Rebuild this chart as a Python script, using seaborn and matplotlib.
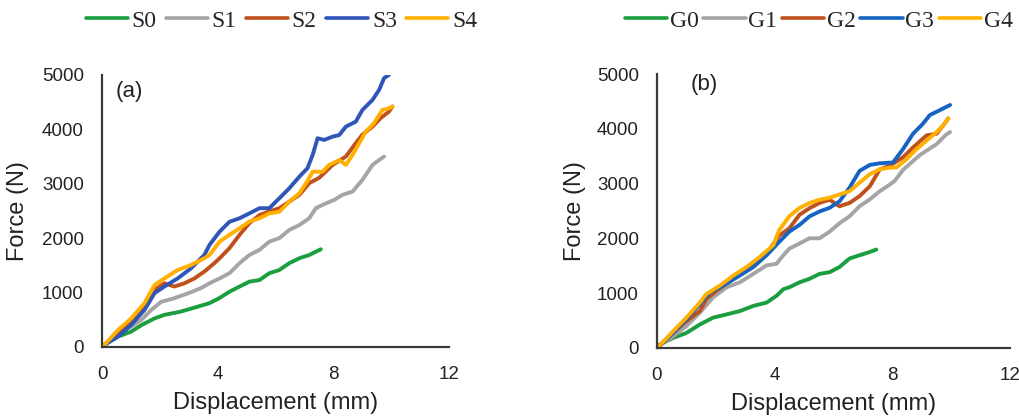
import matplotlib
matplotlib.use("Agg")
import matplotlib.pyplot as plt
from matplotlib.lines import Line2D
import pandas as pd
import seaborn as sns

# ---- load-displacement readings, panel (a): S series ----
s0_x = [0, 0.09, 0.55, 1.0, 1.36, 1.82, 2.16, 2.73, 3.31, 3.72, 4.07, 4.41, 4.76, 5.1, 5.45, 5.79, 6.14, 6.48, 6.83, 7.17, 7.57]
s0_y = [0, 40, 190, 280, 400, 525, 590, 650, 740, 805, 900, 1015, 1110, 1200, 1230, 1355, 1415, 1540, 1630, 1690, 1795]

s1_x = [0, 0.09, 0.55, 1.01, 1.36, 1.7, 2.05, 2.5, 2.97, 3.42, 3.72, 4.07, 4.41, 4.76, 5.1, 5.45, 5.79, 6.14, 6.48, 6.83, 7.17, 7.4, 7.75, 8.03, 8.32, 8.67, 9.01, 9.36, 9.59, 9.76]
s1_y = [0, 40, 250, 375, 495, 680, 830, 895, 985, 1080, 1170, 1260, 1355, 1540, 1690, 1785, 1935, 2000, 2150, 2240, 2365, 2550, 2640, 2700, 2795, 2855, 3070, 3345, 3435, 3500]

s2_x = [0, 0.09, 0.55, 1.01, 1.47, 1.82, 2.16, 2.5, 2.85, 3.2, 3.54, 3.89, 4.07, 4.41, 4.76, 5.1, 5.45, 5.79, 6.14, 6.48, 6.83, 7.17, 7.52, 7.98, 8.44, 8.78, 9.01, 9.36, 9.64, 9.93, 10.05]
s2_y = [0, 40, 250, 465, 740, 1050, 1170, 1110, 1170, 1260, 1385, 1540, 1630, 1815, 2060, 2275, 2425, 2490, 2550, 2670, 2795, 3010, 3110, 3345, 3500, 3745, 3900, 4050, 4205, 4325, 4420]

s3_x = [0, 0.09, 0.55, 1.01, 1.47, 1.82, 2.16, 2.62, 3.08, 3.54, 3.72, 4.07, 4.41, 4.76, 5.1, 5.45, 5.79, 6.14, 6.48, 6.83, 7.11, 7.29, 7.46, 7.69, 7.98, 8.21, 8.44, 8.78, 9.01, 9.36, 9.59, 9.76, 9.93]
s3_y = [0, 40, 190, 405, 680, 990, 1110, 1260, 1445, 1690, 1875, 2120, 2300, 2365, 2455, 2550, 2550, 2735, 2915, 3130, 3285, 3530, 3835, 3805, 3865, 3895, 4050, 4140, 4355, 4540, 4725, 4940, 5000]

s4_x = [0, 0.09, 0.55, 1.01, 1.47, 1.82, 2.16, 2.62, 3.08, 3.54, 3.72, 4.07, 4.41, 4.76, 5.1, 5.45, 5.79, 6.14, 6.48, 6.83, 7.06, 7.29, 7.63, 7.86, 8.21, 8.44, 8.67, 8.9, 9.13, 9.41, 9.7, 9.93, 10.05]
s4_y = [0, 40, 310, 525, 805, 1140, 1260, 1415, 1505, 1630, 1690, 1935, 2060, 2180, 2305, 2365, 2455, 2485, 2670, 2825, 3010, 3220, 3220, 3345, 3435, 3345, 3530, 3745, 3960, 4110, 4355, 4385, 4420]

# ---- panel (b): G series ----
g0_x = [0, 0.09, 0.55, 1.0, 1.46, 1.91, 2.37, 2.82, 3.28, 3.73, 4.07, 4.3, 4.5, 4.85, 5.19, 5.53, 5.87, 6.21, 6.55, 6.89, 7.24, 7.46]
g0_y = [0, 55, 180, 270, 425, 550, 610, 670, 765, 825, 950, 1070, 1105, 1195, 1260, 1350, 1380, 1475, 1630, 1690, 1750, 1795]

g1_x = [0, 0.09, 0.55, 1.0, 1.46, 1.91, 2.37, 2.82, 3.28, 3.73, 4.07, 4.3, 4.5, 4.85, 5.19, 5.53, 5.87, 6.21, 6.55, 6.89, 7.24, 7.58, 7.92, 8.09, 8.37, 8.94, 9.51, 9.85, 9.97]
g1_y = [0, 40, 210, 395, 640, 920, 1105, 1195, 1350, 1505, 1535, 1690, 1810, 1905, 2000, 2000, 2120, 2275, 2400, 2585, 2710, 2860, 2980, 3050, 3250, 3520, 3720, 3900, 3940]

g2_x = [0, 0.09, 0.55, 1.0, 1.46, 1.68, 2.02, 2.6, 3.28, 3.73, 4.16, 4.5, 4.85, 5.19, 5.53, 5.87, 6.21, 6.55, 6.89, 7.24, 7.46, 7.58, 7.92, 8.37, 8.71, 9.17, 9.51, 9.74, 9.91]
g2_y = [0, 40, 270, 485, 670, 890, 1040, 1260, 1535, 1720, 2050, 2180, 2430, 2550, 2645, 2705, 2585, 2645, 2770, 2950, 3150, 3260, 3325, 3480, 3660, 3880, 3910, 4065, 4190]

g3_x = [0, 0.09, 0.55, 1.0, 1.46, 1.8, 2.25, 2.82, 3.28, 3.73, 4.16, 4.5, 4.85, 5.19, 5.53, 5.87, 6.21, 6.55, 6.89, 7.24, 7.58, 8.03, 8.37, 8.71, 9.05, 9.28, 9.62, 9.97]
g3_y = [0, 40, 270, 520, 795, 1010, 1135, 1320, 1475, 1690, 1935, 2120, 2245, 2400, 2490, 2555, 2675, 2925, 3230, 3340, 3370, 3385, 3630, 3910, 4095, 4250, 4340, 4435]

g4_x = [0, 0.09, 0.55, 1.0, 1.46, 1.68, 2.14, 2.6, 3.05, 3.5, 3.96, 4.16, 4.5, 4.85, 5.19, 5.53, 5.87, 6.21, 6.55, 6.89, 7.24, 7.58, 7.92, 8.15, 8.49, 8.83, 9.17, 9.51, 9.74, 9.91]
g4_y = [0, 40, 300, 550, 825, 980, 1135, 1320, 1475, 1660, 1875, 2150, 2400, 2555, 2645, 2705, 2740, 2800, 2860, 3015, 3170, 3260, 3290, 3295, 3445, 3630, 3785, 3940, 4065, 4190]

x_ticks = [0, 4, 8, 12]
y_ticks = [0, 1000, 2000, 3000, 4000, 5000]

s_names = ["S0", "S1", "S2", "S3", "S4"]
g_names = ["G0", "G1", "G2", "G3", "G4"]
s_colors = ["#1a9e3f", "#a5a5a5", "#c0501c", "#2f55b8", "#ffb000"]
g_colors = ["#1a9e3f", "#a5a5a5", "#c0501c", "#1763c2", "#ffb000"]


def long_frame(names, xs, ys):
    parts = []
    for n, x, y in zip(names, xs, ys):
        parts.append(pd.DataFrame({"Displacement": x, "Force": y, "Sample": n}))
    return pd.concat(parts, ignore_index=True)


df_s = long_frame(s_names, [s0_x, s1_x, s2_x, s3_x, s4_x], [s0_y, s1_y, s2_y, s3_y, s4_y])
df_g = long_frame(g_names, [g0_x, g1_x, g2_x, g3_x, g4_x], [g0_y, g1_y, g2_y, g3_y, g4_y])

sns.set_theme(style="white")
plt.rcParams["font.family"] = ["Liberation Sans", "DejaVu Sans"]

fig = plt.figure(figsize=(10.2, 4.16), dpi=100)
ax_a = fig.add_axes([0.100, 0.166, 0.340, 0.654])
ax_b = fig.add_axes([0.644, 0.164, 0.346, 0.658])

# axes, data, names, colours, tag, tag position, y-label x, legend x, text pad, column gap
panels = [
    (ax_a, df_s, s_names, s_colors, "(a)", (0.93, 4690), -0.21, 0.084, 0.15, 0.38),
    (ax_b, df_g, g_names, g_colors, "(b)", (1.6, 4810), -0.202, 0.6125, 0.10, 0.20),
]

for ax, df, names, colors, tag, tag_xy, ylab_x, leg_x, txt_pad, col_gap in panels:
    sns.lineplot(data=df, x="Displacement", y="Force", hue="Sample",
                 hue_order=names, palette=colors, sort=False, estimator=None,
                 linewidth=2.8, ax=ax, legend=False)
    ax.set_xlim(0, 12)
    ax.set_ylim(0, 5000)
    ax.set_xticks(x_ticks)
    ax.set_yticks(y_ticks)
    ax.tick_params(axis="both", length=0, labelsize=13.5, colors="#222222")
    ax.tick_params(axis="y", pad=13)
    ax.tick_params(axis="x", pad=14)
    ax.set_xlabel("Displacement (mm)", fontsize=17, color="#222222")
    ax.set_ylabel("Force (N)", fontsize=17, color="#222222")
    ax.xaxis.set_label_coords(0.5, -0.165)
    ax.yaxis.set_label_coords(ylab_x, 0.5)
    for side in ("top", "right"):
        ax.spines[side].set_visible(False)
    for side in ("left", "bottom"):
        ax.spines[side].set_color("#3a3a3a")
        ax.spines[side].set_linewidth(1.6)
    ax.grid(False)
    ax.text(tag_xy[0], tag_xy[1], tag, fontsize=16, color="#222222",
            ha="center", va="center")

    handles = [Line2D([0], [0], color=c, lw=2.6) for c in colors]
    ax.legend(handles, names, loc="center left", ncol=5,
              bbox_to_anchor=(leg_x, 0.95), bbox_transform=fig.transFigure,
              frameon=False, borderpad=0, borderaxespad=0,
              handlelength=1.8, handletextpad=txt_pad, columnspacing=col_gap,
              prop={"family": "Liberation Serif", "size": 17})

fig.savefig("out.png", dpi=100)
